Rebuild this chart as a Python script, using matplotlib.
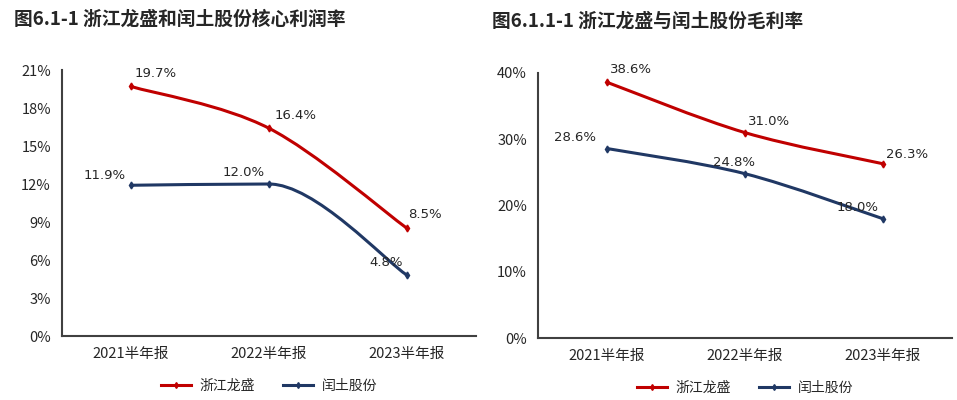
import matplotlib.pyplot as plt
from matplotlib.path import Path
from matplotlib.patches import PathPatch
from matplotlib.lines import Line2D
from matplotlib.ticker import FuncFormatter
import numpy as np

plt.rcParams["font.family"] = ["Noto Sans CJK SC", "DejaVu Sans"]

categories = ["2021半年报", "2022半年报", "2023半年报"]
series_names = ["浙江龙盛", "闰土股份"]

# core profit margin (%)
core_longsheng = [19.7, 16.4, 8.5]
core_runtu = [11.9, 12.0, 4.8]

# gross margin (%)
gross_longsheng = [38.6, 31.0, 26.3]
gross_runtu = [28.6, 24.8, 18.0]

RED = "#C00000"
BLUE = "#203864"
TXT = "#262626"


def smooth_path(xs, ys, tension=1 / 6):
    # bezier through the points; flat tangent at local peaks/valleys
    pts = np.column_stack([xs, ys]).astype(float)
    n = len(pts)
    tang = []
    for i in range(n):
        p0 = pts[max(i - 1, 0)]
        p2 = pts[min(i + 1, n - 1)]
        t = (p2 - p0) * tension
        if 0 < i < n - 1 and (pts[i, 1] - p0[1]) * (p2[1] - pts[i, 1]) <= 0:
            t[1] = 0.0
        tang.append(t)
    verts = [pts[0]]
    codes = [Path.MOVETO]
    for i in range(n - 1):
        verts += [pts[i] + tang[i], pts[i + 1] - tang[i + 1], pts[i + 1]]
        codes += [Path.CURVE4] * 3
    return Path(verts, codes)


def draw_panel(ax, s1, s2, ymax, step, labels1, labels2):
    x = np.arange(len(categories))
    for vals, col in [(s1, RED), (s2, BLUE)]:
        ax.add_patch(PathPatch(smooth_path(x, vals), fill=False, edgecolor=col, lw=2.2))
        ax.plot(x, vals, ls="none", marker="d", ms=3.5, color=col)
    for vals, offs in [(s1, labels1), (s2, labels2)]:
        for xi, v, (dx, dy) in zip(x, vals, offs):
            ax.annotate(f"{v:.1f}%", (xi, v), xytext=(dx, dy), textcoords="offset points",
                        ha="center", va="center", fontsize=9.5, color=TXT,
                        family="DejaVu Sans")
    ax.set_xlim(-0.5, len(categories) - 0.5)
    ax.set_ylim(0, ymax)
    ax.set_yticks(np.arange(0, ymax + 0.01, step))
    ax.yaxis.set_major_formatter(FuncFormatter(lambda v, p: f"{v:.0f}%"))
    ax.set_xticks(x)
    ax.set_xticklabels(categories)
    ax.tick_params(length=0, labelsize=10.5, colors=TXT, pad=8)
    for s in ["top", "right"]:
        ax.spines[s].set_visible(False)
    for s in ["left", "bottom"]:
        ax.spines[s].set_color("#404040")
        ax.spines[s].set_linewidth(1.5)


fig = plt.figure(figsize=(9.57, 4.0), dpi=100)

ax1 = fig.add_axes([62 / 957, 1 - 336 / 400, 414 / 957, 266 / 400])
draw_panel(ax1, core_longsheng, core_runtu, 21, 3,
           [(18, 9), (19, 9), (13, 10)],
           [(-19, 7), (-18, 8), (-15, 9)])

ax2 = fig.add_axes([538 / 957, 1 - 338 / 400, 414 / 957, 265 / 400])
draw_panel(ax2, gross_longsheng, gross_runtu, 40, 10,
           [(17, 9), (17, 8), (17, 7)],
           [(-23, 8), (-8, 8), (-18, 8)])

fig.text(14 / 957, 1 - 19 / 400, "图6.1-1 浙江龙盛和闰土股份核心利润率", fontsize=13.5,
         fontweight="bold", color=TXT, va="center", ha="left")
fig.text(492 / 957, 1 - 21 / 400, "图6.1.1-1 浙江龙盛与闰土股份毛利率", fontsize=13.5,
         fontweight="bold", color=TXT, va="center", ha="left")

handles = [Line2D([], [], color=RED, lw=2.2, marker="d", ms=3),
           Line2D([], [], color=BLUE, lw=2.2, marker="d", ms=3)]
for ax in (ax1, ax2):
    ax.legend(handles, series_names, loc="upper center", bbox_to_anchor=(0.5, -0.115),
              ncol=2, frameon=False, fontsize=10, handlelength=2.2, columnspacing=2,
              handletextpad=0.6, labelcolor=TXT)

fig.savefig("out.png", dpi=100)
